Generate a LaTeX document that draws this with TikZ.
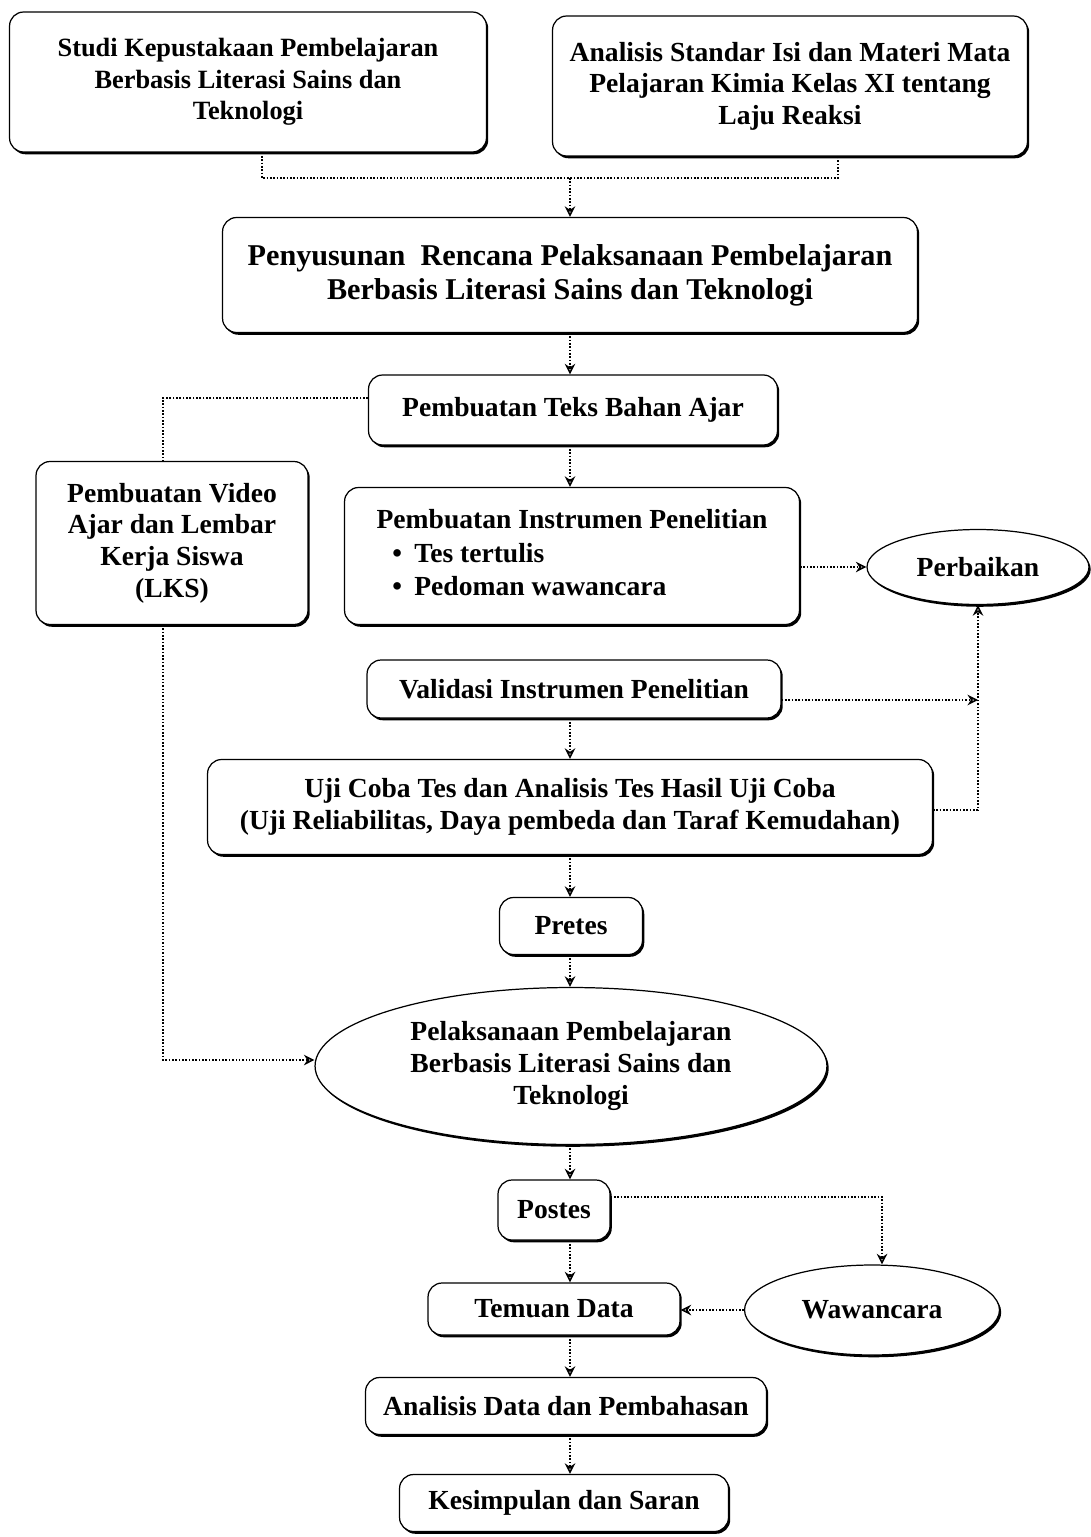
\documentclass[tikz,border=0pt]{standalone}
\usepackage{fontspec}
\setmainfont{Liberation Serif}
\usetikzlibrary{arrows.meta,shapes.geometric,shadows}

\begin{document}
\begin{tikzpicture}[x=0.02cm,y=-0.02cm,>={Stealth[open,length=6pt,width=6pt]},
    box/.style={draw,line width=0.7pt,fill=white,rounded corners=8pt,align=center,inner sep=0pt,
      font=\fontsize{15.7}{18}\selectfont\bfseries,
      drop shadow={shadow xshift=1pt,shadow yshift=-1.3pt,fill=black,opacity=1}},
    oval/.style={box,ellipse},
    link/.style={densely dotted,line width=0.9pt}]
  \useasboundingbox (0,0) rectangle (1090,1537);
  \node[box,minimum width=9.54cm,minimum height=2.8cm,font=\fontsize{15}{18}\selectfont\bfseries] (studi) at (248,82) {Studi Kepustakaan Pembelajaran\\Berbasis Literasi Sains dan\\Teknologi};
  \node[box,minimum width=9.5cm,minimum height=2.8cm] (standar) at (790,86) {Analisis Standar Isi dan Materi Mata\\Pelajaran Kimia Kelas XI tentang\\Laju Reaksi};
  \node[box,minimum width=13.9cm,minimum height=2.3cm,font=\fontsize{17.2}{19.4}\selectfont\bfseries] (rpp) at (570,275) {Penyusunan~~Rencana Pelaksanaan Pembelajaran\\Berbasis Literasi Sains dan Teknologi};
  \node[box,minimum width=8.18cm,minimum height=1.4cm] (teks) at (573,410) {Pembuatan Teks Bahan Ajar};
  \node[box,minimum width=5.44cm,minimum height=3.26cm] (video) at (172,543) {Pembuatan Video\\Ajar dan Lembar\\Kerja Siswa\\(LKS)};
  \node[box,minimum width=9.1cm,minimum height=2.74cm] (instrumen) at (572,556) {\begin{tabular}{@{}l@{}}Pembuatan Instrumen Penelitian\\[1pt]
    \hspace*{9pt}\textbullet\hspace{7pt}Tes tertulis\\[1pt]
    \hspace*{9pt}\textbullet\hspace{7pt}Pedoman wawancara\end{tabular}};
  \node[oval,minimum width=4.44cm,minimum height=1.5cm] (perbaikan) at (978,567) {Perbaikan};
  \node[box,minimum width=8.28cm,minimum height=1.16cm] (validasi) at (574,689) {Validasi Instrumen Penelitian};
  \node[box,minimum width=14.5cm,minimum height=1.9cm] (uji) at (570,807) {Uji Coba Tes dan Analisis Tes Hasil Uji Coba\\(Uji Reliabilitas, Daya pembeda dan Taraf Kemudahan)};
  \node[box,minimum width=2.86cm,minimum height=1.14cm] (pretes) at (571,926) {Pretes};
  \node[oval,minimum width=10.24cm,minimum height=3.14cm] (pelaksanaan) at (571,1066) {Pelaksanaan Pembelajaran\\Berbasis Literasi Sains dan\\Teknologi};
  \node[box,minimum width=2.24cm,minimum height=1.2cm] (postes) at (554,1210) {Postes};
  \node[box,minimum width=5.04cm,minimum height=1.04cm] (temuan) at (554,1309) {Temuan Data};
  \node[oval,minimum width=5.1cm,minimum height=1.8cm] (wawancara) at (872,1310) {Wawancara};
  \node[box,minimum width=8.02cm,minimum height=1.14cm] (analisisdata) at (566,1406) {Analisis Data dan Pembahasan};
  \node[box,minimum width=6.58cm,minimum height=1.14cm] (kesimpulan) at (564,1503) {Kesimpulan dan Saran};
  % dotted connectors
  \coordinate (spine) at (570,0);
  \coordinate (jl) at (262,178);
  \coordinate (jr) at (838,178);
  \coordinate (jm) at (570,178);
  \draw[link] (studi.south -| jl) -- (jl) -- (jr) -- (standar.south -| jr);
  \draw[link,->] (jm) -- (rpp.north -| jm);
  \foreach \u/\v in {rpp/teks,teks/instrumen,validasi/uji,uji/pretes,pretes/pelaksanaan,pelaksanaan/postes,postes/temuan,temuan/analisisdata,analisisdata/kesimpulan}
    \draw[link,->] (\u.south -| spine) -- (\v.north -| spine);
  \coordinate (tl) at (163,398);
  \coordinate (vl) at (163,1060);
  \draw[link] (teks.west |- tl) -- (tl) -- (video.north -| tl);
  \draw[link,->] (video.south -| vl) -- (vl) -- (pelaksanaan.west |- vl);
  \draw[link,->] (instrumen.east |- perbaikan) -- (perbaikan.west);
  \coordinate (rv) at (978,700);
  \coordinate (ru) at (978,810);
  \draw[link,->] (validasi.east |- rv) -- (rv);
  \draw[link,->] (uji.east |- ru) -- (ru) -- (perbaikan.south);
  \coordinate (pw) at (882,1197);
  \draw[link,->] (postes.east |- pw) -- (pw) -- (wawancara.north -| pw);
  \draw[link,->] (wawancara.west) -- (temuan.east |- wawancara.west);
\end{tikzpicture}
\end{document}
